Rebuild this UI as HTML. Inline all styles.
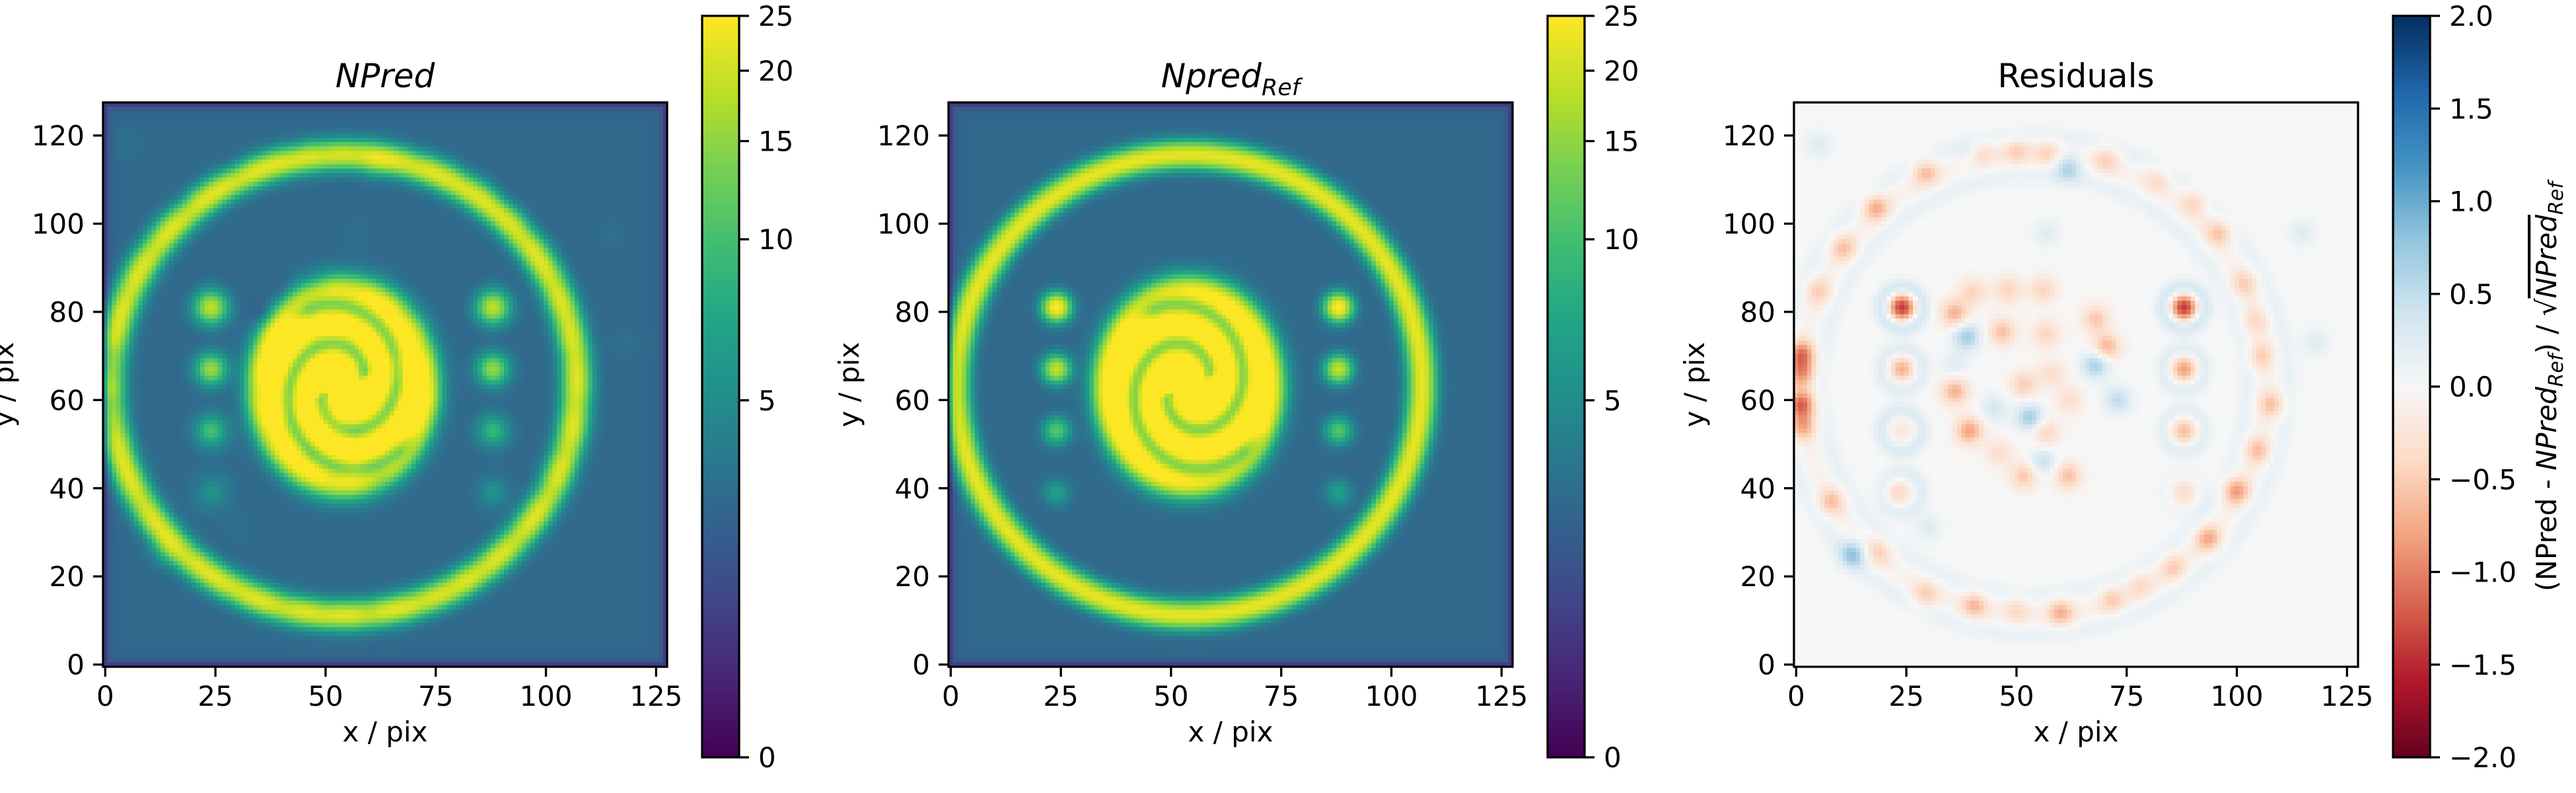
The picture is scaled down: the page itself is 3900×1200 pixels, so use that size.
<!DOCTYPE html>
<html><head><meta charset="utf-8">
<style>
html,body{margin:0;padding:0;background:#fff;}
#root{position:relative;width:3900px;height:1200px;overflow:hidden;background:#fff;}
canvas{position:absolute;image-rendering:pixelated;}
svg{position:absolute;left:0;top:0;}
text{font-family:"DejaVu Sans","Liberation Sans",sans-serif;fill:#000;}
</style></head>
<body>
<div id="root">
<canvas id="img1" width="128" height="128" style="left:156px;top:155px;width:854px;height:854px"></canvas>
<canvas id="img2" width="128" height="128" style="left:1436px;top:155px;width:854px;height:854px"></canvas>
<canvas id="img3" width="128" height="128" style="left:2716px;top:155px;width:854px;height:854px"></canvas>
<canvas id="cb1" width="1" height="256" style="left:1063px;top:24px;width:56px;height:1122px;image-rendering:auto"></canvas>
<canvas id="cb2" width="1" height="256" style="left:2343px;top:24px;width:56px;height:1122px;image-rendering:auto"></canvas>
<canvas id="cb3" width="1" height="256" style="left:3623px;top:24px;width:56px;height:1122px;image-rendering:auto"></canvas>
<svg id="ov" width="3900" height="1200">
<text x="583" y="132" font-size="50" font-style="italic" text-anchor="middle">NPred</text>
<text x="1863" y="132" font-size="50" font-style="italic" text-anchor="middle">Npred<tspan font-size="35" dy="12">Ref</tspan></text>
<text x="3143" y="132" font-size="50" text-anchor="middle">Residuals</text>
<text x="583" y="1122" font-size="42" text-anchor="middle">x / pix</text>
<text x="1863" y="1122" font-size="42" text-anchor="middle">x / pix</text>
<text x="3143" y="1122" font-size="42" text-anchor="middle">x / pix</text>
<text transform="translate(20,582) rotate(-90)" font-size="42" text-anchor="middle">y / pix</text>
<text transform="translate(1300,582) rotate(-90)" font-size="42" text-anchor="middle">y / pix</text>
<text transform="translate(2580,582) rotate(-90)" font-size="42" text-anchor="middle">y / pix</text>
<text transform="translate(3870,585) rotate(-90)" font-size="42" text-anchor="middle">(NPred - <tspan font-style="italic">NPred</tspan><tspan font-style="italic" font-size="30" dy="10">Ref</tspan><tspan dy="-10">) / √</tspan><tspan font-style="italic" text-decoration="overline">NPred</tspan><tspan font-style="italic" font-size="30" dy="10">Ref</tspan></text>
<g id="dyn"></g>
</svg>
</div>
<script>
// ---------- data (image model, data-pixel coordinates) ----------
const xTickValues=[0,25,50,75,100,125];
const yTickValues=[0,20,40,60,80,100,120];
const cbTicksNpred=[0,5,10,15,20,25];
const cbTicksRes=[-2.0,-1.5,-1.0,-0.5,0.0,0.5,1.0,1.5,2.0];
const background=[3];
const ringGeom=[54,63.4,53,52.2];      // cx, cy, rx, ry
const ringAmp=[19.5];
const ringSigma=[2.0];
const dotX=[24,24,24,24,88,88,88,88];
const dotY=[81,67,53,39,81,67,53,39];
const dotAmp=[23,16,8,3.5,23,16,8,3.5];
const galaxyGeom=[54,63,20.5,23.5];     // cx, cy, rx, ry
const galaxyAmp=[30];
const armOffsets=[0.3,3.44];
const armPhiMin=[0.2,0.1];
const armPhiMax=[5.2,4.9];
const armR0=[5];
const armSlope=[2.5];
const resBlobX=[29.3,42,50,57,70.4,18,10.6,5,1.2,1.2,1.2,1.5,8,18.7,29.3,40.5,50,60,71.7,78,85.4,93.5,99.8,104.7,107.9,105.4,104,101.6,96,90.4,82,
 24,88,24,88,24,88,23,88,
 36,40,48,56,46.8,56.7,68,70.4,36,39.3,51.7,56.7,61.7,51.7,46,62,58,
 13,61.7,38.7,68,53,73,45,56,36,118,115,57,5,40,30];
const resBlobY=[111.7,116,116.5,116,114.6,103.7,94.5,84.7,70.4,66,59,54,37,25.6,15.8,13.5,12.5,11.8,14.7,18,22,28.5,39.4,48.6,59,70,78,86.4,98,104.8,110,
 81,81,67,67,53,53,39,39,
 79.6,84.5,85,85,75.5,75,78.4,72,62,53,63.5,52.6,42.8,42.8,48,60,66,
 25,112.9,74.4,68,56,60,58,46,68,73,98,98,118,116,31];
const resBlobAmp=[-0.6,-0.45,-0.45,-0.4,-0.45,-0.7,-0.55,-0.45,-1.0,-0.8,-1.1,-0.7,-0.55,-0.45,-0.45,-0.6,-0.35,-0.65,-0.45,-0.35,-0.45,-0.7,-0.8,-0.55,-0.55,-0.45,-0.35,-0.45,-0.55,-0.45,-0.35,
 -1.4,-1.4,-0.7,-0.8,-0.25,-0.6,-0.4,-0.35,
 -0.7,-0.45,-0.45,-0.45,-0.6,-0.45,-0.55,-0.7,-0.7,-0.8,-0.5,-0.45,-0.6,-0.55,-0.35,-0.35,-0.35,
 0.7,0.6,0.7,0.7,0.7,0.5,0.35,0.45,0.25,0.25,0.25,0.25,0.25,0.25,0.25];
const resHaloAmp=[0.45,0.3,0.3,0.25,0.45,0.3,0.25,0.1];
const resRingBandAmp=[0.15,-0.08,0.15];   // inner, centre, outer

// ---------- colormaps ----------
const VIR=["#440154","#482475","#414487","#355f8d","#2a788e","#21918c","#22a884","#44bf70","#7ad151","#bddf26","#fde725"];
const RDBU=["#67001f","#b2182b","#d6604d","#f4a582","#fddbc7","#f7f7f7","#d1e5f0","#92c5de","#4393c3","#2166ac","#053061"];
function hex(h){return [parseInt(h.substr(1,2),16),parseInt(h.substr(3,2),16),parseInt(h.substr(5,2),16)];}
const VIRr=VIR.map(hex), RDBUr=RDBU.map(hex);
function cmap(st,t){t=Math.max(0,Math.min(1,t));const f=t*(st.length-1);const i=Math.min(st.length-2,Math.floor(f));const u=f-i;
 return [0,1,2].map(k=>Math.round(st[i][k]+(st[i+1][k]-st[i][k])*u));}
const A=2.5, VMAX=25;
function normN(v){return Math.asinh(Math.max(0,v)/A)/Math.asinh(VMAX/A);}
function normR(v){return (v+2)/4;}

// ---------- model ----------
function gauss(d,s){return Math.exp(-d*d/(2*s*s));}
function refModel(x,y){
 let v=background[0];
 const [cx,cy,rx,ry]=ringGeom;const R=(rx+ry)/2;
 const d=Math.hypot((x-cx)/rx,(y-cy)/ry)*R-R;
 v+=ringAmp[0]*gauss(d,ringSigma[0]);
 for(let k=0;k<dotX.length;k++){v+=dotAmp[k]*gauss(Math.hypot(x-dotX[k],y-dotY[k]),2.0);}
 const [gx,gy,grx,gry]=galaxyGeom;
 const u=x-gx,w=(y-gy)*grx/gry;const rho=Math.hypot(u,w);
 const env=1/(1+Math.exp((rho-grx)/1.15));
 if(env>1e-4){
  const th=Math.atan2(w,u);let gmax=0;
  for(let a=0;a<armOffsets.length;a++){
   for(let k=-1;k<=2;k++){const phi=th-armOffsets[a]+2*Math.PI*k;
    const lo=phi-armPhiMin[a], hi=armPhiMax[a]-phi;
    const taper=Math.min(1,Math.max(0,lo/0.35+1))*Math.min(1,Math.max(0,hi/0.35+1));
    if(taper>0){const rc=armR0[0]+armSlope[0]*phi;gmax=Math.max(gmax,taper*gauss(rho-rc,1.5));}}
  }
  v+=galaxyAmp[0]*env*(1-0.62*gmax);
 }
 return v;
}
function resModel(x,y){
 let r=0;
 for(let k=0;k<resBlobX.length;k++){r+=resBlobAmp[k]*gauss(Math.hypot(x-resBlobX[k],y-resBlobY[k]),2.2);}
 for(let k=0;k<dotX.length;k++){const d=Math.hypot(x-dotX[k],y-dotY[k]);r+=resHaloAmp[k]*gauss(d-4.5,1.4);}
 const [cx,cy,rx,ry]=ringGeom;const R=(rx+ry)/2;const d=Math.hypot((x-cx)/rx,(y-cy)/ry)*R-R;
 r+=resRingBandAmp[0]*gauss(d+4.5,1.6)+resRingBandAmp[1]*gauss(d,1.8)+resRingBandAmp[2]*gauss(d-4.5,1.6);
 return r;
}
function edge(i,j){const d=Math.min(i,j,127-i,127-j);return 1-0.55*Math.exp(-d/0.9);}

function draw(){
 const c1=document.getElementById('img1').getContext('2d'),c2=document.getElementById('img2').getContext('2d'),c3=document.getElementById('img3').getContext('2d');
 const d1=c1.createImageData(128,128),d2=c2.createImageData(128,128),d3=c3.createImageData(128,128);
 for(let j=0;j<128;j++)for(let i=0;i<128;i++){
  const ref=refModel(i,j)*edge(i,j);const res=resModel(i,j);const np=ref+res*Math.sqrt(ref);
  const p=((127-j)*128+i)*4;
  const a=cmap(VIRr,normN(np)),b=cmap(VIRr,normN(ref)),c=cmap(RDBUr,normR(res));
  d1.data.set([a[0],a[1],a[2],255],p);d2.data.set([b[0],b[1],b[2],255],p);d3.data.set([c[0],c[1],c[2],255],p);
 }
 c1.putImageData(d1,0,0);c2.putImageData(d2,0,0);c3.putImageData(d3,0,0);
 ['cb1','cb2','cb3'].forEach((id,n)=>{const ctx=document.getElementById(id).getContext('2d');const im=ctx.createImageData(1,256);
  for(let k=0;k<256;k++){const t=1-k/255;const col=cmap(n<2?VIRr:RDBUr,t);im.data.set([col[0],col[1],col[2],255],k*4);}ctx.putImageData(im,0,0);});
}
draw();

// ---------- axes ----------
const NS='http://www.w3.org/2000/svg';
const g=document.getElementById('dyn');
function xs(off,v){return off+(v+0.5)*854/128;}
function ys(v){return 1009-(v+0.5)*854/128;}
function mk(tag,attrs){const e=document.createElementNS(NS,tag);for(const k in attrs)e.setAttribute(k,attrs[k]);g.appendChild(e);return e;}
const panels=[156,1436,2716];
panels.forEach((L,p)=>{
 const fr=mk('rect',{x:L,y:155,width:854,height:854,fill:'none',stroke:'#000','stroke-width':3.3});
 
 
 xTickValues.forEach(v=>{const X=xs(L,v);
  const t=mk('line',{x1:X,x2:X,y1:1009,y2:1024,stroke:'#000','stroke-width':3.3});
  
  
  const tx=mk('text',{x:X,y:1068,'font-size':42,'text-anchor':'middle'});tx.textContent=String(v);
  
  });
 yTickValues.forEach(v=>{const Y=ys(v);
  const t=mk('line',{x1:L-15,x2:L,y1:Y,y2:Y,stroke:'#000','stroke-width':3.3});
  
  
  const tx=mk('text',{x:L-28,y:Y+15,'font-size':42,'text-anchor':'end'});tx.textContent=String(v);
  
  });
 const CL=L+907;
 const cf=mk('rect',{x:CL,y:24,width:56,height:1122,fill:'none',stroke:'#000','stroke-width':3.3});
 
 
 const ticks=p<2?cbTicksNpred:cbTicksRes;
 ticks.forEach(v=>{const Y=p<2?1146-1122*normN(v):1146-1122*normR(v);
  const t=mk('line',{x1:CL+56,x2:CL+71,y1:Y,y2:Y,stroke:'#000','stroke-width':3.3});
  
  
  const tx=mk('text',{x:CL+85,y:Y+15,'font-size':42});
  tx.textContent=p<2?String(v):(v<0?'\u2212':'')+Math.abs(v).toFixed(1);
  
  });
});
</script>
</body></html>
